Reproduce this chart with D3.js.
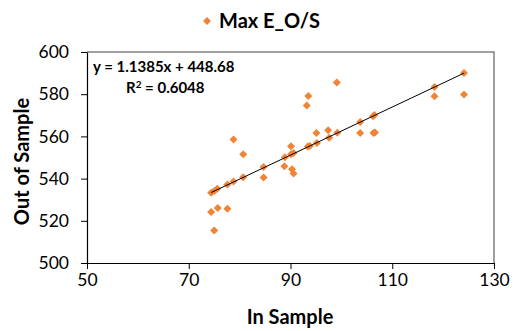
<!DOCTYPE html>
<html>
<head>
<meta charset="utf-8">
<script src="https://cdn.jsdelivr.net/npm/d3@7"></script>
<style>
  html, body { margin: 0; padding: 0; background: #fff; }
  svg { display: block; }
  text { font-family: Lato, "Open Sans", sans-serif; fill: #000; }
</style>
</head>
<body>
<svg id="chart" width="517" height="331"></svg>
<script>
// ---- data ----
const seriesName = "Max E_O/S";
const inSample = [74.4, 75.0, 75.6, 77.6, 78.8, 80.7, 84.7, 84.7, 74.4, 75.7, 77.6, 75.0,
  78.8, 80.7, 99.1, 93.5, 93.2, 90.1, 93.4, 93.8, 95.1, 95.2, 97.4, 97.6, 99.2,
  88.9, 90.1, 90.6, 88.8, 90.3, 90.6, 103.7, 103.7, 106.2, 106.5, 106.3, 106.6,
  118.3, 118.3, 124.1, 124.1];
const outSample = [533.3, 534.1, 535.2, 537.2, 538.6, 540.6, 545.5, 540.5, 524.2, 526.1, 525.7, 515.4,
  558.5, 551.5, 585.6, 579.1, 574.7, 555.3, 555.2, 555.5, 561.6, 556.9, 562.9, 559.4, 561.7,
  550.1, 551.5, 552.1, 545.9, 544.4, 542.4, 566.8, 561.6, 569.5, 570.1, 561.6, 561.9,
  583.4, 579.0, 590.0, 579.8];
const xTicks = [50, 70, 90, 110, 130];
const yTicks = [500, 520, 540, 560, 580, 600];
const slope = 1.1385, intercept = 448.68;
const eqLabel = "y = 1.1385x + 448.68";
const r2Label = "0.6048";
const xTitle = "In Sample", yTitle = "Out of Sample";

// ---- layout ----
const svg = d3.select("#chart");
const L = 87, R = 494, T = 52, B = 263;
const x = d3.scaleLinear().domain([50, 130]).range([L, R]);
const y = d3.scaleLinear().domain([500, 600]).range([B, T]);
const orange = "#EF8436";
const diamond = "M0,-4L4,0L0,4L-4,0Z";

// plot border (top/right gray)
svg.append("path")
  .attr("d", `M${L},${T}H${R}V${B}`)
  .attr("fill", "none").attr("stroke", "#808080").attr("stroke-width", 1.5);

// axes
const xAxis = d3.axisBottom(x).tickValues(xTicks).tickSize(6).tickSizeOuter(0).tickPadding(5);
const yAxis = d3.axisLeft(y).tickValues(yTicks).tickSize(6).tickSizeOuter(0).tickPadding(12);
const gx = svg.append("g").attr("transform", `translate(0,${B})`).call(xAxis);
const gy = svg.append("g").attr("transform", `translate(${L},0)`).call(yAxis);
[gx, gy].forEach(g => {
  g.select(".domain").attr("stroke", "#000").attr("stroke-width", 1.2);
  g.selectAll(".tick line").attr("stroke", "#000");
  g.selectAll(".tick text").attr("font-size", 17.5).attr("font-family", "Lato, sans-serif").attr("fill", "#000");
});

// points
svg.append("g").selectAll("path").data(inSample.map((v, i) => [v, outSample[i]]))
  .join("path")
  .attr("d", diamond)
  .attr("transform", d => `translate(${x(d[0])},${y(d[1])})`)
  .attr("fill", orange);

// trendline
const xMin = d3.min(inSample), xMax = d3.max(inSample);
svg.append("line")
  .attr("x1", x(xMin)).attr("y1", y(slope * xMin + intercept))
  .attr("x2", x(xMax)).attr("y2", y(slope * xMax + intercept))
  .attr("stroke", "#000").attr("stroke-width", 1);

// equation
svg.append("text").attr("x", 93).attr("y", 72)
  .attr("font-size", 15).attr("font-weight", "bold").text(eqLabel);
const r2 = svg.append("text").attr("x", 126).attr("y", 93)
  .attr("font-size", 15).attr("font-weight", "bold");
r2.append("tspan").text("R");
r2.append("tspan").attr("font-size", 10).attr("dy", -5).text("2");
r2.append("tspan").attr("dy", 5).text(" = " + r2Label);

// legend
svg.append("path").attr("d", diamond).attr("transform", "translate(207,21)").attr("fill", orange);
svg.append("text").attr("x", 219).attr("y", 28)
  .attr("font-size", 20).attr("font-weight", "bold").text(seriesName);

// axis titles
svg.append("text").attr("x", 290).attr("y", 324)
  .attr("text-anchor", "middle").attr("font-size", 20).attr("font-weight", "bold").text(xTitle);
svg.append("text").attr("transform", `translate(29,${(T + B) / 2 + 4}) rotate(-90)`)
  .attr("text-anchor", "middle").attr("font-size", 20).attr("font-weight", "bold").text(yTitle);
</script>
</body>
</html>
